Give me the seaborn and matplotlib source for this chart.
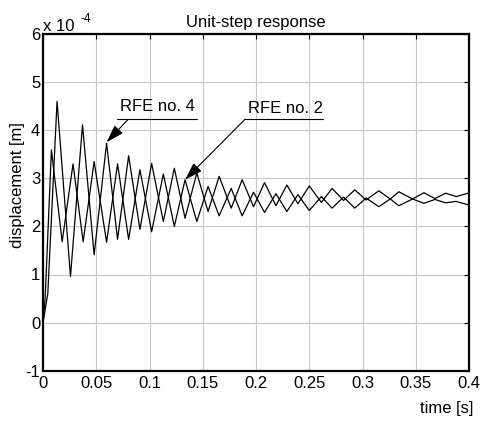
import matplotlib
matplotlib.use("Agg")
import matplotlib.pyplot as plt
import seaborn as sns
import pandas as pd

# ---- data (displacement in units of 1e-4 m) ----
t_rfe4 = [0, 0.0045, 0.0132, 0.0258, 0.0371, 0.048, 0.0597, 0.070, 0.0804, 0.091,
          0.102, 0.113, 0.1233, 0.1334, 0.1444, 0.155, 0.1654, 0.1767, 0.187, 0.1977,
          0.208, 0.2187, 0.229, 0.2394, 0.250, 0.2614, 0.2714, 0.2822, 0.2927, 0.3034,
          0.3153, 0.326, 0.3341, 0.347, 0.3576, 0.368, 0.378, 0.388, 0.399, 0.4]
disp_rfe4 = [0, 0.6, 4.60, 0.96, 4.11, 1.41, 3.73, 1.73, 3.47, 1.94,
             3.31, 2.10, 3.21, 2.17, 3.11, 2.31, 3.04, 2.38, 2.97, 2.41,
             2.91, 2.43, 2.86, 2.47, 2.84, 2.50, 2.79, 2.54, 2.76, 2.55,
             2.74, 2.57, 2.72, 2.57, 2.70, 2.58, 2.69, 2.62, 2.69, 2.68]

t_rfe2 = [0, 0.002, 0.0079, 0.018, 0.0282, 0.0377, 0.048, 0.0597, 0.070, 0.0804,
          0.091, 0.102, 0.113, 0.1233, 0.1334, 0.1444, 0.155, 0.1654, 0.1767, 0.187,
          0.1977, 0.208, 0.2187, 0.229, 0.2394, 0.250, 0.2614, 0.2714, 0.2822, 0.2927,
          0.3034, 0.3153, 0.326, 0.3341, 0.347, 0.3576, 0.368, 0.378, 0.388, 0.399, 0.4]
disp_rfe2 = [0, 0.5, 3.59, 1.68, 3.30, 1.68, 3.35, 1.67, 3.30, 1.73,
             3.18, 1.89, 3.09, 2.00, 2.97, 2.10, 2.83, 2.22, 2.79, 2.22,
             2.71, 2.29, 2.68, 2.31, 2.66, 2.33, 2.62, 2.38, 2.61, 2.38,
             2.59, 2.41, 2.57, 2.43, 2.57, 2.48, 2.56, 2.49, 2.52, 2.45, 2.46]

x_ticks = [0, 0.05, 0.1, 0.15, 0.2, 0.25, 0.3, 0.35, 0.4]
x_tick_labels = ['0', '0.05', '0.1', '0.15', '0.2', '0.25', '0.3', '0.35', '0.4']
y_ticks = [-1, 0, 1, 2, 3, 4, 5, 6]
y_tick_labels = ['-1', '0', '1', '2', '3', '4', '5', '6']

df4 = pd.DataFrame({'t': t_rfe4, 'd': disp_rfe4})
df2 = pd.DataFrame({'t': t_rfe2, 'd': disp_rfe2})

sns.set_style('white')
plt.rcParams['font.family'] = ['Liberation Sans', 'DejaVu Sans']
plt.rcParams['font.size'] = 12
plt.rcParams['text.color'] = 'black'
plt.rcParams['axes.labelcolor'] = 'black'
plt.rcParams['xtick.color'] = 'black'
plt.rcParams['ytick.color'] = 'black'

FS = 12
fig = plt.figure(figsize=(4.8, 4.21), dpi=100)
ax = fig.add_axes([43/480, 1 - 370.7/421, 426/480, 336.7/421])

sns.lineplot(data=df4, x='t', y='d', sort=False, estimator=None, color='black', lw=0.9, ax=ax)
sns.lineplot(data=df2, x='t', y='d', sort=False, estimator=None, color='black', lw=0.9, ax=ax)

ax.set_xlim(0, 0.4)
ax.set_ylim(-1, 6)
ax.set_xticks(x_ticks)
ax.set_xticklabels(x_tick_labels)
ax.set_yticks(y_ticks)
ax.set_yticklabels(y_tick_labels)
ax.grid(True, color='#c8c8c8', lw=0.8)
ax.set_axisbelow(True)
ax.tick_params(direction='in', length=3.5, width=0.8, top=True, right=True,
               labelsize=FS, colors='black')
ax.tick_params(axis='x', pad=4)
ax.tick_params(axis='y', pad=2)
for s in ax.spines.values():
    s.set_visible(True)
    s.set_color('black')
    s.set_linewidth(1.6)

ax.set_title('Unit-step response', fontsize=FS, pad=5, color='black')
ax.set_xlabel('time [s]', fontsize=FS, color='black')
ax.xaxis.set_label_coords(1.0094, -0.111)
ax.xaxis.label.set_ha('right')
ax.xaxis.label.set_va('center')
ax.set_ylabel('displacement [m]', fontsize=FS, color='black')
ax.yaxis.set_label_coords(-0.06, 0.55)
ax.yaxis.label.set_va('center')

# scale factor text
ax.text(0.0, 1.009, 'x 10', transform=ax.transAxes, fontsize=FS, ha='left', va='baseline', color='black')
ax.text(0.087, 1.0365, '-4', transform=ax.transAxes, fontsize=8.5, ha='left', va='baseline', color='black')

# annotations
arrow = dict(arrowstyle='-|>,head_length=1.1,head_width=0.35', color='black', lw=0.8,
             mutation_scale=10, shrinkA=0, shrinkB=0)
ax.annotate('', xy=(0.0597, 3.75), xytext=(0.0797, 4.22), arrowprops=arrow)
ax.plot([0.0694, 0.1447], [4.23, 4.23], color='black', lw=0.8)
ax.text(0.0723, 4.40, 'RFE no. 4', fontsize=FS, ha='left', va='baseline', color='black')

ax.annotate('', xy=(0.1334, 2.97), xytext=(0.1898, 4.23), arrowprops=arrow)
ax.plot([0.1898, 0.2632], [4.23, 4.23], color='black', lw=0.8)
ax.text(0.1926, 4.36, 'RFE no. 2', fontsize=FS, ha='left', va='baseline', color='black')

fig.savefig('out.png', dpi=100)
